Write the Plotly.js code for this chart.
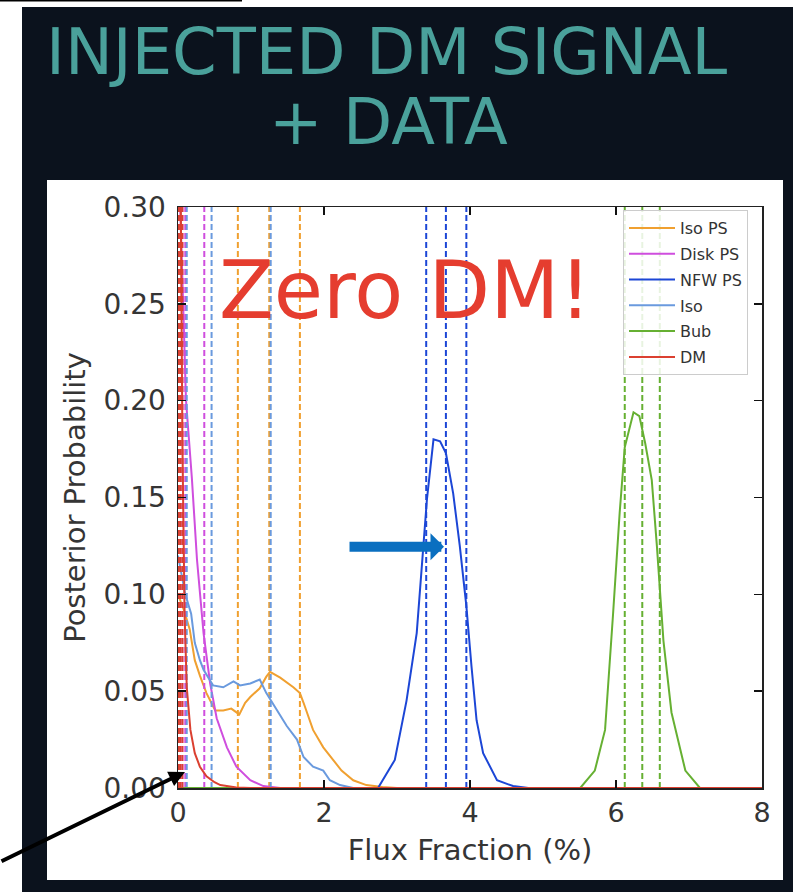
<!DOCTYPE html>
<html>
<head>
<meta charset="utf-8">
<script src="https://cdn.plot.ly/plotly-3.0.1.min.js"></script>
<style>
html,body{margin:0;padding:0;background:#ffffff;}
#chart{width:793px;height:892px;}
</style>
</head>
<body>
<div id="chart"></div>
<script>
// ---------- data ----------
const seriesNames = ["Iso PS", "Disk PS", "NFW PS", "Iso", "Bub", "DM"];

const isoPS_x = [0, 0.08, 0.16, 0.23, 0.30, 0.39, 0.51, 0.62, 0.73, 0.84, 0.92, 0.99, 1.12, 1.21, 1.26, 1.40, 1.58, 1.67, 1.72, 1.85, 1.99, 2.13, 2.24, 2.40, 2.58, 2.80, 3.00, 8];
const isoPS_y = [0.10, 0.092, 0.082, 0.066, 0.058, 0.049, 0.040, 0.040, 0.041, 0.038, 0.044, 0.047, 0.0515, 0.0575, 0.060, 0.057, 0.052, 0.049, 0.044, 0.030, 0.021, 0.0145, 0.009, 0.004, 0.0015, 0.0005, 0, 0];

const disk_x = [0, 0.03, 0.07, 0.11, 0.19, 0.26, 0.35, 0.44, 0.53, 0.67, 0.80, 0.99, 1.17, 1.40, 8];
const disk_y = [0.40, 0.30, 0.25, 0.20, 0.16, 0.118, 0.080, 0.054, 0.036, 0.021, 0.011, 0.004, 0.001, 0, 0];

const nfw_x = [0, 2.74, 2.97, 3.13, 3.27, 3.34, 3.41, 3.50, 3.59, 3.67, 3.77, 3.86, 3.95, 4.02, 4.09, 4.18, 4.37, 4.59, 4.80, 8];
const nfw_y = [0, 0, 0.0145, 0.045, 0.080, 0.114, 0.149, 0.180, 0.179, 0.173, 0.152, 0.125, 0.094, 0.063, 0.035, 0.018, 0.004, 0.001, 0, 0];

const iso_x = [0, 0.10, 0.18, 0.23, 0.30, 0.35, 0.48, 0.62, 0.76, 0.85, 0.99, 1.12, 1.21, 1.33, 1.49, 1.63, 1.72, 1.85, 1.99, 2.08, 2.22, 2.40, 8];
const iso_y = [0.12, 0.10, 0.09, 0.075, 0.066, 0.061, 0.053, 0.052, 0.055, 0.053, 0.054, 0.056, 0.049, 0.042, 0.032, 0.025, 0.016, 0.011, 0.009, 0.004, 0.0015, 0, 0];

const bub_x = [0, 5.51, 5.71, 5.85, 5.96, 6.05, 6.12, 6.24, 6.32, 6.40, 6.49, 6.56, 6.65, 6.76, 6.95, 7.15, 8];
const bub_y = [0, 0, 0.009, 0.030, 0.090, 0.142, 0.176, 0.194, 0.192, 0.178, 0.159, 0.125, 0.076, 0.039, 0.009, 0, 0];

const dm_x = [0, 0.03, 0.06, 0.09, 0.12, 0.17, 0.23, 0.30, 0.39, 0.50, 0.58, 0.80, 1.00, 8];
const dm_y = [1.0, 0.35, 0.18, 0.09, 0.052, 0.030, 0.018, 0.011, 0.006, 0.003, 0.0015, 0.0003, 0, 0];

// percentile (dashed) lines
const isoPS_lines = [0.82, 1.25, 1.67];
const disk_lines  = [0.06, 0.10, 0.36];
const nfw_lines   = [3.40, 3.67, 3.95];
const iso_lines   = [0.12, 0.46, 1.27];
const bub_lines   = [6.12, 6.36, 6.60];
const dm_lines    = [0.01, 0.03, 0.06];

const xTicks = [0, 2, 4, 6, 8];
const yTicks = [0, 0.05, 0.10, 0.15, 0.20, 0.25, 0.30];

// ---------- styling ----------
const colors = ["#f0a030", "#cf4ede", "#1c46d6", "#6a9ade", "#66b032", "#db4030"];
const curves = [
  [isoPS_x, isoPS_y, isoPS_lines],
  [disk_x, disk_y, disk_lines],
  [nfw_x, nfw_y, nfw_lines],
  [iso_x, iso_y, iso_lines],
  [bub_x, bub_y, bub_lines],
  [dm_x, dm_y, dm_lines]
];

const W = 793, H = 892;
const L = 178, R = 762, T = 207, B = 788;
const px = v => (v - L) / (R - L);
const py = v => (B - v) / (B - T);
const FONT = "DejaVu Sans, Verdana, sans-serif";
const TXT = "#353535";

const traces = [];
curves.forEach((c, i) => {
  traces.push({
    x: c[0], y: c[1], type: "scatter", mode: "lines",
    name: seriesNames[i], legendgroup: seriesNames[i],
    line: {color: colors[i], width: 2},
    hoverinfo: "skip"
  });
  c[2].forEach(v => {
    traces.push({
      x: [v, v], y: [0, 0.3], type: "scatter", mode: "lines",
      legendgroup: seriesNames[i], showlegend: false,
      line: {color: colors[i], width: 2, dash: "6px,3px"},
      hoverinfo: "skip"
    });
  });
});

const layout = {
  width: W, height: H,
  margin: {l: L, r: W - R, t: T, b: H - B, pad: 0},
  paper_bgcolor: "#ffffff",
  plot_bgcolor: "#ffffff",
  font: {family: FONT, color: TXT},
  showlegend: true,
  legend: {
    x: px(623), y: py(210), xanchor: "left", yanchor: "top",
    bgcolor: "rgba(255,255,255,0.85)", bordercolor: "#cccccc", borderwidth: 1,
    font: {family: FONT, size: 16, color: "#333333"},
    tracegroupgap: 2, itemwidth: 46
  },
  xaxis: {
    range: [0, 8], tickvals: xTicks, ticktext: xTicks.map(String),
    ticks: "inside", ticklen: 8, tickwidth: 1.5, tickcolor: "#111",
    showline: true, linecolor: "#222", linewidth: 1.5, mirror: "ticks",
    showgrid: false, zeroline: false,
    tickfont: {family: FONT, size: 27, color: TXT},
    title: {text: "Flux Fraction (%)", font: {family: FONT, size: 29, color: TXT}, standoff: 13}
  },
  yaxis: {
    range: [0, 0.30], tickvals: yTicks, ticktext: yTicks.map(v => v.toFixed(2)),
    ticks: "inside", ticklen: 8, tickwidth: 1.5, tickcolor: "#111",
    showline: true, linecolor: "#222", linewidth: 1.5, mirror: "ticks",
    showgrid: false, zeroline: false, ticklabelstandoff: 5,
    tickfont: {family: FONT, size: 28, color: TXT},
    title: {text: "Posterior Probability", font: {family: FONT, size: 29, color: TXT}, standoff: 9}
  },
  shapes: [
    {type: "rect", xref: "paper", yref: "paper", layer: "below",
     x0: px(22), x1: px(793), y0: py(7), y1: py(892),
     fillcolor: "#0b121d", line: {width: 0}},
    {type: "rect", xref: "paper", yref: "paper", layer: "below",
     x0: px(47), x1: px(783), y0: py(180), y1: py(880),
     fillcolor: "#ffffff", line: {width: 0}},
    {type: "rect", xref: "paper", yref: "paper", layer: "below",
     x0: px(0), x1: px(242), y0: py(0), y1: py(1.5),
     fillcolor: "#000000", line: {width: 0}}
  ],
  annotations: [
    {text: "INJECTED DM SIGNAL", xref: "paper", yref: "paper", x: px(387), y: py(52),
     xanchor: "center", yanchor: "middle", showarrow: false,
     font: {family: FONT, size: 64, color: "#4aa19b"}},
    {text: "+ DATA", xref: "paper", yref: "paper", x: px(388), y: py(122),
     xanchor: "center", yanchor: "middle", showarrow: false,
     font: {family: FONT, size: 64, color: "#4aa19b"}},
    {text: "Zero DM!", xref: "paper", yref: "paper", x: px(405), y: py(290),
     xanchor: "center", yanchor: "middle", showarrow: false,
     font: {family: FONT, size: 80, color: "#e53d2f"}},
    {text: "", xref: "x", yref: "y", x: 3.644, y: 0.1246, ax: -96, ay: 0,
     showarrow: true, arrowhead: 1, arrowsize: 0.45, arrowwidth: 10, arrowcolor: "#0a6fc0"},
    {text: "", xref: "x", yref: "y", x: 0.096, y: 0.0083, ax: -185, ay: 90,
     showarrow: true, arrowhead: 2, arrowsize: 0.8, arrowwidth: 4, arrowcolor: "#000000"}
  ]
};

Plotly.newPlot("chart", traces, layout, {displayModeBar: false, staticPlot: true});
</script>
</body>
</html>
